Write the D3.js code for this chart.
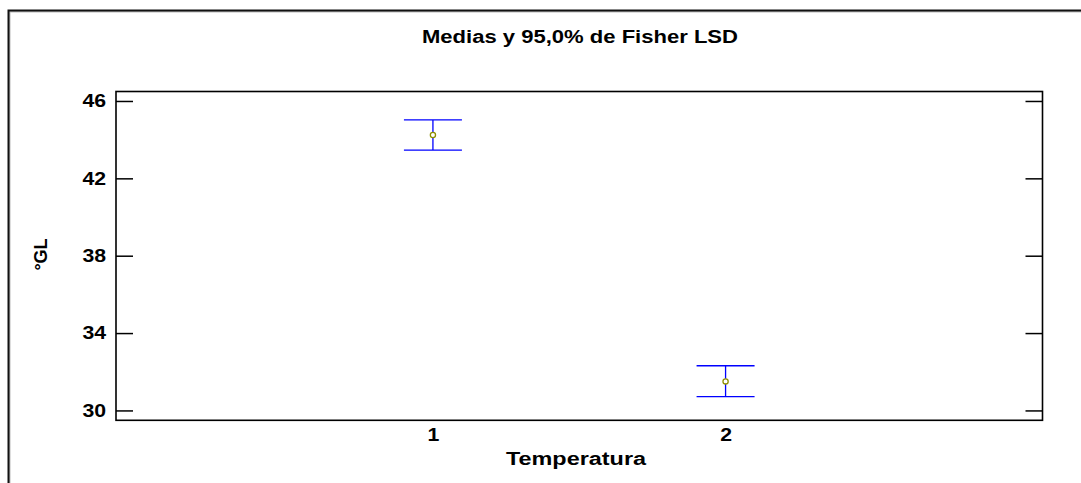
<!DOCTYPE html>
<html>
<head>
<meta charset="utf-8">
<script src="https://cdn.jsdelivr.net/npm/d3@7"></script>
<style>
  html, body { margin: 0; padding: 0; background: #fff; overflow: hidden; }
  svg { display: block; }
  text { font-family: "Liberation Sans", Arial, sans-serif; font-weight: bold; fill: #000; }
</style>
</head>
<body>
<svg id="chart" width="1081" height="483"></svg>
<script>
// Group means with their 95% Fisher LSD intervals
const categories = ["1", "2"];
const categoryPos = [1, 2];
const means = [44.24, 31.50];
const lower = [43.46, 30.71];
const upper = [45.02, 32.31];
const yTicks = [30, 34, 38, 42, 46];

const titleText = "Medias y 95,0% de Fisher LSD";
const xLabel = "Temperatura";
const yLabel = "°GL";

const W = 1081, H = 483;
const plot = { left: 116, top: 91.5, right: 1042.5, bottom: 420.3 };
const textStretch = 1.18;

const svg = d3.select("#chart");

// outer frame (extends past the window on the right and bottom)
svg.append("path")
  .attr("d", `M9.5,${H + 5} V11.5 H${W + 5}`)
  .attr("fill", "none").attr("stroke", "#bbb").attr("stroke-width", 2);
svg.append("path")
  .attr("d", `M8.5,${H + 5} V10.5 H${W + 5}`)
  .attr("fill", "none").attr("stroke", "#111").attr("stroke-width", 2);

const x = d3.scaleLinear().domain([-0.083, 3.083]).range([plot.left, plot.right]);
const y = d3.scaleLinear().domain([29.49, 46.49]).range([plot.bottom, plot.top]);

// left axis: inward ticks with labels
const gLeft = svg.append("g")
  .attr("transform", `translate(${plot.left},0)`)
  .call(d3.axisLeft(y).tickValues(yTicks).tickSize(-17).tickPadding(10).tickFormat(d3.format("d")));
gLeft.select(".domain").remove();
gLeft.selectAll(".tick line").attr("stroke", "#000").attr("stroke-width", 1.5);
gLeft.selectAll(".tick text")
  .attr("font-size", 18).attr("font-family", null)
  .attr("x", -10 / textStretch)
  .attr("transform", `scale(${textStretch},1)`);

// right axis: inward ticks only
const gRight = svg.append("g")
  .attr("transform", `translate(${plot.right},0)`)
  .call(d3.axisRight(y).tickValues(yTicks).tickSize(-17).tickFormat(""));
gRight.select(".domain").remove();
gRight.selectAll(".tick line").attr("stroke", "#000").attr("stroke-width", 1.5);

// bottom axis: category labels
const gBottom = svg.append("g")
  .attr("transform", `translate(0,${plot.bottom})`)
  .call(d3.axisBottom(x).tickValues(categoryPos).tickSize(0).tickPadding(7.6)
    .tickFormat((d, i) => categories[i]));
gBottom.select(".domain").remove();
gBottom.selectAll(".tick text")
  .attr("font-size", 18).attr("font-family", null)
  .attr("transform", `scale(${textStretch},1)`);

// plot frame
svg.append("rect")
  .attr("x", plot.left).attr("y", plot.top)
  .attr("width", plot.right - plot.left).attr("height", plot.bottom - plot.top)
  .attr("fill", "none").attr("stroke", "#000").attr("stroke-width", 1.6);

// interval bars
const capHalf = 29;
const bars = svg.append("g").selectAll("g")
  .data(categoryPos.map((c, i) => ({ c, m: means[i], lo: lower[i], hi: upper[i] })))
  .join("g");

bars.append("line")
  .attr("x1", d => x(d.c)).attr("x2", d => x(d.c))
  .attr("y1", d => y(d.hi)).attr("y2", d => y(d.lo))
  .attr("stroke", "#0000ff").attr("stroke-width", 1.3);
bars.append("line")
  .attr("x1", d => x(d.c) - capHalf).attr("x2", d => x(d.c) + capHalf)
  .attr("y1", d => y(d.hi)).attr("y2", d => y(d.hi))
  .attr("stroke", "#0000ff").attr("stroke-width", 1.3);
bars.append("line")
  .attr("x1", d => x(d.c) - capHalf).attr("x2", d => x(d.c) + capHalf)
  .attr("y1", d => y(d.lo)).attr("y2", d => y(d.lo))
  .attr("stroke", "#0000ff").attr("stroke-width", 1.3);
bars.append("circle")
  .attr("cx", d => x(d.c)).attr("cy", d => y(d.m))
  .attr("r", 2.6)
  .attr("fill", "#fff").attr("stroke", "#8f8f00").attr("stroke-width", 1.3);

// title
svg.append("text")
  .attr("x", 580).attr("y", 42.7)
  .attr("text-anchor", "middle")
  .attr("font-size", 18)
  .attr("textLength", 316).attr("lengthAdjust", "spacingAndGlyphs")
  .text(titleText);

// x axis title
svg.append("text")
  .attr("x", 576).attr("y", 465)
  .attr("text-anchor", "middle")
  .attr("font-size", 18)
  .attr("textLength", 140).attr("lengthAdjust", "spacingAndGlyphs")
  .text(xLabel);

// y axis title
svg.append("text")
  .attr("transform", "translate(46.7,254.5) rotate(-90)")
  .attr("text-anchor", "middle")
  .attr("font-size", 18)
  .text(yLabel);
</script>
</body>
</html>
